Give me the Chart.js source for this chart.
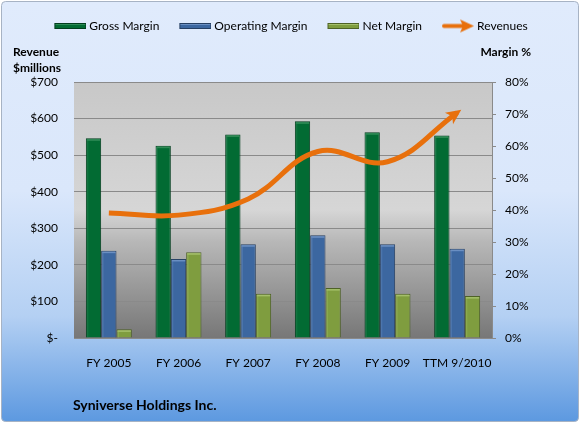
<!DOCTYPE html>
<html><head><meta charset="utf-8">
<script src="https://cdn.jsdelivr.net/npm/chart.js@4/dist/chart.umd.min.js"></script>
<style>html,body{margin:0;padding:0;background:#fff;}canvas{display:block;}</style>
</head><body>
<canvas id="c" width="582" height="423"></canvas>
<script>
// ---- data ----
const categories = ['FY 2005', 'FY 2006', 'FY 2007', 'FY 2008', 'FY 2009', 'TTM 9/2010'];
const grossMargin = [62.4, 60.1, 63.6, 67.7, 64.3, 63.3];
const operatingMargin = [27.3, 24.7, 29.3, 32.1, 29.3, 27.9];
const netMargin = [2.7, 26.8, 13.8, 15.6, 13.8, 13.1];
const revenues = [342, 336, 380, 510, 482, 616];
const revenueTickLabels = ['$-', '$100', '$200', '$300', '$400', '$500', '$600', '$700'];
const marginTickLabels = ['0%', '10%', '20%', '30%', '40%', '50%', '60%', '70%', '80%'];
const seriesNames = ['Gross Margin', 'Operating Margin', 'Net Margin', 'Revenues'];

// ---- styles ----
const FONT = 'Lato';
const barFill = ['#026B33', '#3C67A0', '#7F9D3F'];
const barEdge = ['#013D1D', '#263F62', '#4E6226'];
const barLight = ['#2E8A55', '#6A8FC2', '#A4BF6A'];
const lineColor = '#E8700C';

Chart.defaults.font.family = FONT;
Chart.defaults.font.size = 12;
Chart.defaults.color = '#000';

function barSwatch(i) {
  const c = document.createElement('canvas');
  c.width = 35; c.height = 8;
  const g = c.getContext('2d');
  g.fillStyle = barEdge[i]; g.fillRect(3, 1, 32, 6);
  g.fillStyle = barFill[i]; g.fillRect(4, 2, 30, 4);
  g.fillStyle = barLight[i]; g.fillRect(4, 2, 30, 1);
  return c;
}
function arrowSwatch() {
  const c = document.createElement('canvas');
  c.width = 35; c.height = 15;
  const g = c.getContext('2d');
  g.strokeStyle = lineColor; g.lineWidth = 4; g.lineCap = 'round';
  g.beginPath(); g.moveTo(5, 7.5); g.lineTo(24, 7.5); g.stroke();
  g.fillStyle = lineColor;
  g.beginPath(); g.moveTo(35, 7.5); g.lineTo(21, 1); g.lineTo(24, 7.5); g.lineTo(21, 14); g.closePath(); g.fill();
  return c;
}
const swatches = [barSwatch(0), barSwatch(1), barSwatch(2), arrowSwatch()];

const decorPlugin = {
  id: 'decor',
  beforeDraw(chart) {
    const ctx = chart.ctx, W = chart.width, H = chart.height;
    ctx.save();
    ctx.fillStyle = '#fff'; ctx.fillRect(0, 0, W, H);
    const bg = ctx.createLinearGradient(0, 2, 0, 421);
    bg.addColorStop(0, '#E0EBFC');
    bg.addColorStop(0.45, '#DAE7FB');
    bg.addColorStop(0.75, '#B4D0F3');
    bg.addColorStop(1, '#5D99E0');
    ctx.fillStyle = bg;
    ctx.beginPath();
    ctx.roundRect(1.5, 1.5, 577, 420, 4);
    ctx.fill();
    ctx.strokeStyle = '#A7B3C4'; ctx.lineWidth = 1; ctx.stroke();
    const a = chart.chartArea;
    const pg = ctx.createLinearGradient(0, a.top, 0, a.bottom);
    pg.addColorStop(0, '#C8C8C8');
    pg.addColorStop(0.5, '#D6D6D6');
    pg.addColorStop(0.62, '#B8B8B8');
    pg.addColorStop(1, '#777777');
    ctx.fillStyle = pg;
    ctx.fillRect(a.left, a.top, a.right - a.left, a.bottom - a.top);
    ctx.restore();
  },
  afterDatasetDraw(chart, args) {
    const i = args.index;
    if (i > 2) return;
    const ctx = chart.ctx;
    ctx.save();
    args.meta.data.forEach(el => {
      const w = el.width, x0 = el.x - w / 2, y0 = el.y, y1 = el.base;
      ctx.fillStyle = barLight[i];
      ctx.fillRect(x0 + 1, y0 + 1, w - 2, 1.5);
      ctx.globalAlpha = 0.35;
      ctx.fillRect(x0 + 1, y0 + 2, 1.5, y1 - y0 - 2);
      ctx.globalAlpha = 1;
    });
    ctx.restore();
  },
  afterDatasetsDraw(chart) {
    const meta = chart.getDatasetMeta(3);
    const pts = meta.data;
    const p = pts[pts.length - 1];
    const q = pts[pts.length - 2];
    let dx = p.x - (p.cp1x ?? q.x), dy = p.y - (p.cp1y ?? q.y);
    const L = Math.hypot(dx, dy); dx /= L; dy /= L;
    const nx = -dy, ny = dx;
    const tipX = p.x + dx * 5, tipY = p.y + dy * 5;
    const bx = tipX - dx * 15, by = tipY - dy * 15;
    const ix = tipX - dx * 11, iy = tipY - dy * 11;
    const ctx = chart.ctx;
    ctx.save();
    ctx.fillStyle = lineColor;
    ctx.beginPath();
    ctx.moveTo(tipX, tipY);
    ctx.lineTo(bx + nx * 7, by + ny * 7);
    ctx.lineTo(ix, iy);
    ctx.lineTo(bx - nx * 7, by - ny * 7);
    ctx.closePath();
    ctx.fill();
    ctx.restore();
  },
  afterDraw(chart) {
    const ctx = chart.ctx;
    ctx.save();
    ctx.fillStyle = '#000';
    ctx.textBaseline = 'middle';
    ctx.font = 'bold 12px ' + FONT;
    ctx.textAlign = 'left';
    ctx.fillText('Revenue', 13, 52);
    ctx.fillText('$millions', 13, 68);
    ctx.textAlign = 'right';
    ctx.fillText('Margin %', 531, 52);
    ctx.textAlign = 'left';
    ctx.font = 'bold 14px ' + FONT;
    ctx.fillText('Syniverse Holdings Inc.', 73, 405);
    ctx.restore();
  }
};

const barCommon = { yAxisID: 'y1', order: 1, borderWidth: 1, barPercentage: 1, categoryPercentage: 0.66, borderSkipped: 'start' };

new Chart(document.getElementById('c'), {
  type: 'bar',
  data: {
    labels: categories,
    datasets: [
      Object.assign({ label: seriesNames[0], data: grossMargin, backgroundColor: barFill[0], borderColor: barEdge[0] }, barCommon),
      Object.assign({ label: seriesNames[1], data: operatingMargin, backgroundColor: barFill[1], borderColor: barEdge[1] }, barCommon),
      Object.assign({ label: seriesNames[2], data: netMargin, backgroundColor: barFill[2], borderColor: barEdge[2] }, barCommon),
      { type: 'line', label: seriesNames[3], data: revenues, yAxisID: 'y', order: 0,
        borderColor: lineColor, borderWidth: 5, tension: 0.4, pointRadius: 0, borderCapStyle: 'butt', fill: false }
    ]
  },
  options: {
    responsive: false,
    animation: false,
    devicePixelRatio: 1,
    layout: { padding: 0 },
    plugins: {
      tooltip: { enabled: false },
      legend: {
        position: 'top',
        align: 'center',
        labels: {
          usePointStyle: true,
          pointStyleWidth: 29,
          padding: 20,
          color: '#000',
          font: { family: FONT, size: 12 },
          generateLabels: (chart) => chart.data.datasets.map((ds, i) => ({
            text: ds.label, pointStyle: swatches[i], datasetIndex: i, hidden: false,
            fillStyle: 'rgba(0,0,0,0)', strokeStyle: 'rgba(0,0,0,0)', lineWidth: 0, fontColor: '#000'
          }))
        }
      }
    },
    scales: {
      x: {
        position: 'bottom',
        grid: { display: false },
        border: { display: false },
        ticks: { padding: 10, color: '#000', maxRotation: 0, autoSkip: false },
        afterFit: s => { s.height = 85; }
      },
      xTop: {
        type: 'category',
        position: 'top',
        labels: categories,
        grid: { display: false },
        border: { display: false },
        ticks: { display: false },
        afterFit: s => { s.height = 40; }
      },
      y: {
        position: 'left',
        min: 0, max: 700,
        ticks: { stepSize: 100, padding: 16, color: '#000',
          callback: (v, i) => revenueTickLabels[i] },
        grid: { color: '#8A8A8A', drawTicks: false, lineWidth: 1 },
        border: { display: false },
        afterFit: s => { s.width = 74; }
      },
      y1: {
        position: 'right',
        min: 0, max: 80,
        ticks: { stepSize: 10, padding: 9, color: '#000',
          callback: (v, i) => marginTickLabels[i] },
        grid: { drawOnChartArea: false, drawTicks: true, tickLength: 4, color: '#8A8A8A' },
        border: { display: true, color: '#8A8A8A' },
        afterFit: s => { s.width = 90; }
      }
    }
  },
  plugins: [decorPlugin]
});
</script>
</body></html>
